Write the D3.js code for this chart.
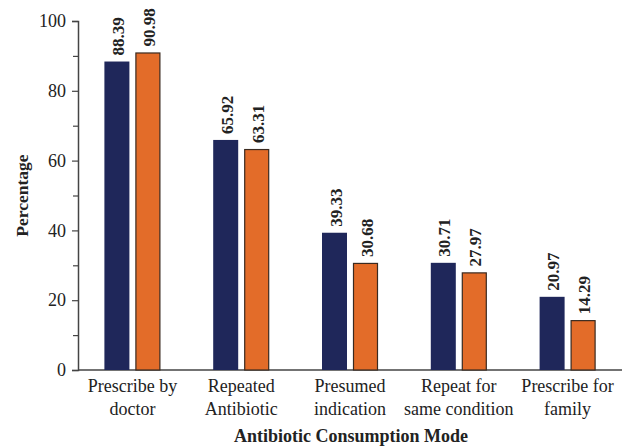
<!DOCTYPE html>
<html>
<head>
<meta charset="utf-8">
<script src="https://cdn.jsdelivr.net/npm/d3@7"></script>
<style>
  html, body { margin: 0; padding: 0; background: #fff; }
  svg { display: block; font-family: "Liberation Serif", "DejaVu Serif", serif; }
</style>
</head>
<body>
<svg id="chart" width="626" height="448"></svg>
<script>
// Antibiotic consumption modes, two groups per mode
const categories = [
  ["Prescribe by", "doctor"],
  ["Repeated", "Antibiotic"],
  ["Presumed", "indication"],
  ["Repeat for", "same condition"],
  ["Prescribe for", "family"]
];
const seriesA = [88.39, 65.92, 39.33, 30.71, 20.97];
const seriesB = [90.98, 63.31, 30.68, 27.97, 14.29];
const yTicks = [0, 20, 40, 60, 80, 100];
const yMinorTicks = [10, 30, 50, 70, 90];

const colors = { a: "#1f275a", b: "#e36c29" };

const svg = d3.select("#chart");
const plot = { left: 78, right: 622, top: 21, bottom: 370 };

const x = d3.scaleBand()
  .domain(d3.range(categories.length))
  .range([plot.left, plot.right])
  .paddingInner(0)
  .paddingOuter(0);

const y = d3.scaleLinear().domain([0, 100]).range([plot.bottom, plot.top]);

const barW = 25, gap = 6;

// y axis: major ticks with labels, minor ticks without
const yAxis = d3.axisLeft(y).tickValues(yTicks).tickSize(6).tickPadding(6).tickFormat(d3.format("d"));
const gy = svg.append("g").attr("transform", `translate(${plot.left},0)`).call(yAxis);
gy.select(".domain").attr("stroke", "#444").attr("stroke-width", 1.5);
gy.selectAll(".tick line").attr("stroke", "#444").attr("stroke-width", 1.2);
gy.selectAll(".tick text")
  .attr("font-size", 18)
  .attr("fill", "#222")
  .attr("font-family", "Liberation Serif, serif");

const gyMinor = svg.append("g").attr("transform", `translate(${plot.left},0)`)
  .call(d3.axisLeft(y).tickValues(yMinorTicks).tickSize(5).tickFormat(""));
gyMinor.select(".domain").remove();
gyMinor.selectAll(".tick line").attr("stroke", "#444").attr("stroke-width", 1.2);

// x baseline
svg.append("line")
  .attr("x1", plot.left).attr("x2", plot.right)
  .attr("y1", y(0)).attr("y2", y(0))
  .attr("stroke", "#444").attr("stroke-width", 1.5);

const groups = svg.append("g").selectAll("g")
  .data(categories.map((c, i) => ({ c, i, a: seriesA[i], b: seriesB[i] })))
  .join("g")
  .attr("transform", d => `translate(${x(d.i) + x.bandwidth() / 2},0)`);

// navy bars
groups.append("rect")
  .attr("x", -barW - gap / 2)
  .attr("y", d => y(d.a))
  .attr("width", barW)
  .attr("height", d => y(0) - y(d.a))
  .attr("fill", colors.a);

// orange bars with a dark edge
groups.append("rect")
  .attr("x", gap / 2 + 0.5)
  .attr("y", d => y(d.b) + 0.5)
  .attr("width", barW - 1)
  .attr("height", d => y(0) - y(d.b) - 0.5)
  .attr("fill", colors.b)
  .attr("stroke", "#3a2a20")
  .attr("stroke-width", 1.2);

// value labels, rotated above each bar
function valueLabel(sel, key, cx) {
  sel.append("text")
    .attr("transform", d => `translate(${cx + 7},${y(d[key]) - 6}) rotate(-90)`)
    .attr("font-size", 17)
    .attr("font-weight", "bold")
    .attr("fill", "#222")
    .text(d => d[key].toFixed(2));
}
valueLabel(groups, "a", -barW / 2 - gap / 2);
valueLabel(groups, "b", gap / 2 + barW / 2);

// category labels, two lines
const cat = groups.append("text")
  .attr("text-anchor", "middle")
  .attr("font-size", 18)
  .attr("fill", "#222");
cat.append("tspan").attr("x", 0).attr("y", 392).text(d => d.c[0]);
cat.append("tspan").attr("x", 0).attr("y", 415).text(d => d.c[1]);

// axis titles
svg.append("text")
  .attr("x", (plot.left + plot.right) / 2 + 1)
  .attr("y", 442)
  .attr("text-anchor", "middle")
  .attr("font-size", 18)
  .attr("font-weight", "bold")
  .attr("fill", "#222")
  .text("Antibiotic Consumption Mode");

svg.append("text")
  .attr("transform", `translate(28,${(plot.top + plot.bottom) / 2}) rotate(-90)`)
  .attr("text-anchor", "middle")
  .attr("font-size", 17.5)
  .attr("font-weight", "bold")
  .attr("fill", "#222")
  .text("Percentage");
</script>
</body>
</html>
